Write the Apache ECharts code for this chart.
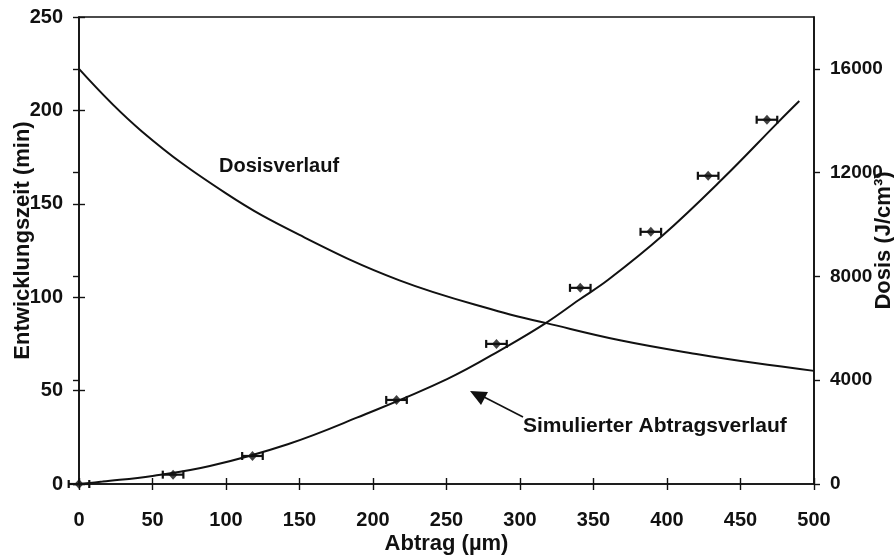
<!DOCTYPE html>
<html>
<head>
<meta charset="utf-8">
<script src="https://cdn.jsdelivr.net/npm/echarts@6/dist/echarts.min.js"></script>
<style>
  html, body { margin: 0; padding: 0; background: #fff; }
  #chart { width: 894px; height: 556px; }
</style>
</head>
<body>
<div id="chart"></div>
<script>
// Measured removal depth (µm) vs. development time (min), with ± depth uncertainty
const abtrag = [0, 64, 118, 216, 284, 341, 389, 428, 468];
const zeit = [0, 5, 15, 45, 75, 105, 135, 165, 195];
const fehler = [7, 7, 7, 7, 7, 7, 7, 7, 7];

// Simulated removal curve (depth µm -> time min)
const simTiefe = [0, 16, 50, 89, 142, 189, 250, 291, 318, 340, 360, 397, 438, 476, 490];
const simZeit = [0, 1.3, 4.3, 9.6, 21.3, 35.5, 56, 73.6, 86.4, 98.5, 109.3, 133, 163.5, 194, 205];

// Dose profile over depth (J/cm³)
const dosisTiefe = [0, 42.6, 100, 150, 218, 289, 318, 368, 422, 460, 500];
const dosisWert = [16000, 13600, 11200, 9600, 7850, 6600, 6200, 5540, 4990, 4660, 4360];

// Tick labels
const xTicks = [0, 50, 100, 150, 200, 250, 300, 350, 400, 450, 500];
const yLeftTicks = [0, 50, 100, 150, 200, 250];
const yRightTicks = [0, 4000, 8000, 12000, 16000];

const FONT = 'Liberation Sans';
const INK = '#111';
const txt = { color: INK, fontFamily: FONT, fontWeight: 'bold', fontSize: 20 };
const nameTxt = { color: INK, fontFamily: FONT, fontWeight: 'bold', fontSize: 22 };

const chart = echarts.init(document.getElementById('chart'), null, { renderer: 'canvas' });

// Axes are doubled so that every tick crosses the axis line (outside + inside halves)
function valueAxis(extra) {
  return Object.assign({
    type: 'value',
    splitLine: { show: false },
    nameMoveOverlap: false,
    axisLine: { show: true, onZero: false, lineStyle: { color: INK, width: 1.6 } },
    axisTick: { show: true, length: 6, lineStyle: { color: INK, width: 1.4 } },
    axisLabel: Object.assign({}, txt)
  }, extra);
}

const plain = v => String(v);

const option = {
  animation: false,
  backgroundColor: '#fff',
  grid: {
    left: 79, right: 80, top: 17, bottom: 72,
    containLabel: false,
    outerBoundsMode: 'none',
    show: true, borderColor: INK, borderWidth: 1.6
  },
  xAxis: [
    valueAxis({
      min: 0, max: 500, interval: 50, position: 'bottom',
      name: 'Abtrag (µm)', nameLocation: 'middle', nameGap: 49,
      nameTextStyle: Object.assign({}, nameTxt),
      axisLabel: Object.assign({}, txt, { margin: 26, customValues: xTicks, formatter: plain }),
      axisTick: { show: true, length: 6, customValues: xTicks, lineStyle: { color: INK, width: 1.4 } }
    }),
    valueAxis({
      min: 0, max: 500, interval: 50, position: 'bottom',
      axisLine: { show: false },
      axisLabel: { show: false },
      axisTick: { show: true, inside: true, length: 6, customValues: xTicks, lineStyle: { color: INK, width: 1.4 } }
    })
  ],
  yAxis: [
    valueAxis({
      min: 0, max: 250, interval: 50, position: 'left',
      name: 'Entwicklungszeit (min)', nameLocation: 'middle', nameGap: 45,
      nameTextStyle: Object.assign({}, nameTxt, { padding: [0, 0, 0, 20] }),
      axisLabel: Object.assign({}, txt, { margin: 16, customValues: yLeftTicks, formatter: plain }),
      axisTick: { show: true, length: 6, customValues: yLeftTicks, lineStyle: { color: INK, width: 1.4 } }
    }),
    valueAxis({
      min: 0, max: 18000, position: 'right',
      name: 'Dosis (J/cm³)', nameLocation: 'middle', nameGap: 59,
      nameTextStyle: Object.assign({}, nameTxt, { padding: [0, 0, 0, 20] }),
      axisLabel: Object.assign({}, txt, { fontSize: 19, margin: 16, customValues: yRightTicks, formatter: plain }),
      axisTick: { show: true, length: 6, customValues: yRightTicks, lineStyle: { color: INK, width: 1.4 } }
    }),
    valueAxis({
      min: 0, max: 250, position: 'left',
      axisLine: { show: false }, axisLabel: { show: false },
      axisTick: { show: true, inside: true, length: 6, customValues: yLeftTicks, lineStyle: { color: INK, width: 1.4 } }
    }),
    valueAxis({
      min: 0, max: 18000, position: 'right',
      axisLine: { show: false }, axisLabel: { show: false },
      axisTick: { show: true, inside: true, length: 6, customValues: yRightTicks, lineStyle: { color: INK, width: 1.4 } }
    })
  ],
  series: [
    {
      name: 'Dosisverlauf',
      type: 'line',
      xAxisIndex: 0, yAxisIndex: 1,
      data: dosisTiefe.map((x, i) => [x, dosisWert[i]]),
      smooth: 0.4,
      showSymbol: false,
      lineStyle: { color: INK, width: 2 },
      silent: true
    },
    {
      name: 'Simulierter Abtragsverlauf',
      type: 'line',
      xAxisIndex: 0, yAxisIndex: 0,
      data: simTiefe.map((x, i) => [x, simZeit[i]]),
      smooth: 0.4,
      showSymbol: false,
      lineStyle: { color: INK, width: 2 },
      silent: true
    },
    {
      name: 'Fehlerbalken',
      type: 'custom',
      xAxisIndex: 0, yAxisIndex: 0,
      clip: false,
      data: abtrag.map((x, i) => [x, zeit[i], fehler[i]]),
      renderItem: function (params, api) {
        const x = api.value(0), y = api.value(1), e = api.value(2);
        const l = api.coord([x - e, y]);
        const r = api.coord([x + e, y]);
        const cap = 4;
        const st = { stroke: INK, lineWidth: 2.2 };
        return {
          type: 'group',
          children: [
            { type: 'line', shape: { x1: l[0], y1: l[1], x2: r[0], y2: r[1] }, style: st },
            { type: 'line', shape: { x1: l[0], y1: l[1] - cap, x2: l[0], y2: l[1] + cap }, style: st },
            { type: 'line', shape: { x1: r[0], y1: r[1] - cap, x2: r[0], y2: r[1] + cap }, style: st }
          ]
        };
      }
    },
    {
      name: 'Messwerte',
      type: 'scatter',
      xAxisIndex: 0, yAxisIndex: 0,
      clip: false,
      data: abtrag.map((x, i) => [x, zeit[i]]),
      symbol: 'diamond',
      symbolSize: [9, 10],
      itemStyle: { color: INK }
    }
  ],
  graphic: [
    { type: 'text', left: 219, top: 156, style: { text: 'Dosisverlauf', fill: INK, font: 'bold 20px "Liberation Sans"' } },
    { type: 'text', left: 523, top: 416, style: { text: 'Simulierter Abtragsverlauf', fill: INK, font: 'bold 21px "Liberation Sans"' } },
    { type: 'polyline', shape: { points: [[484, 397], [523, 417]] }, style: { stroke: INK, lineWidth: 1.6 } },
    { type: 'polygon', shape: { points: [[470, 391], [488, 392], [481, 405]] }, style: { fill: INK } }
  ]
};

chart.setOption(option);
</script>
</body>
</html>
